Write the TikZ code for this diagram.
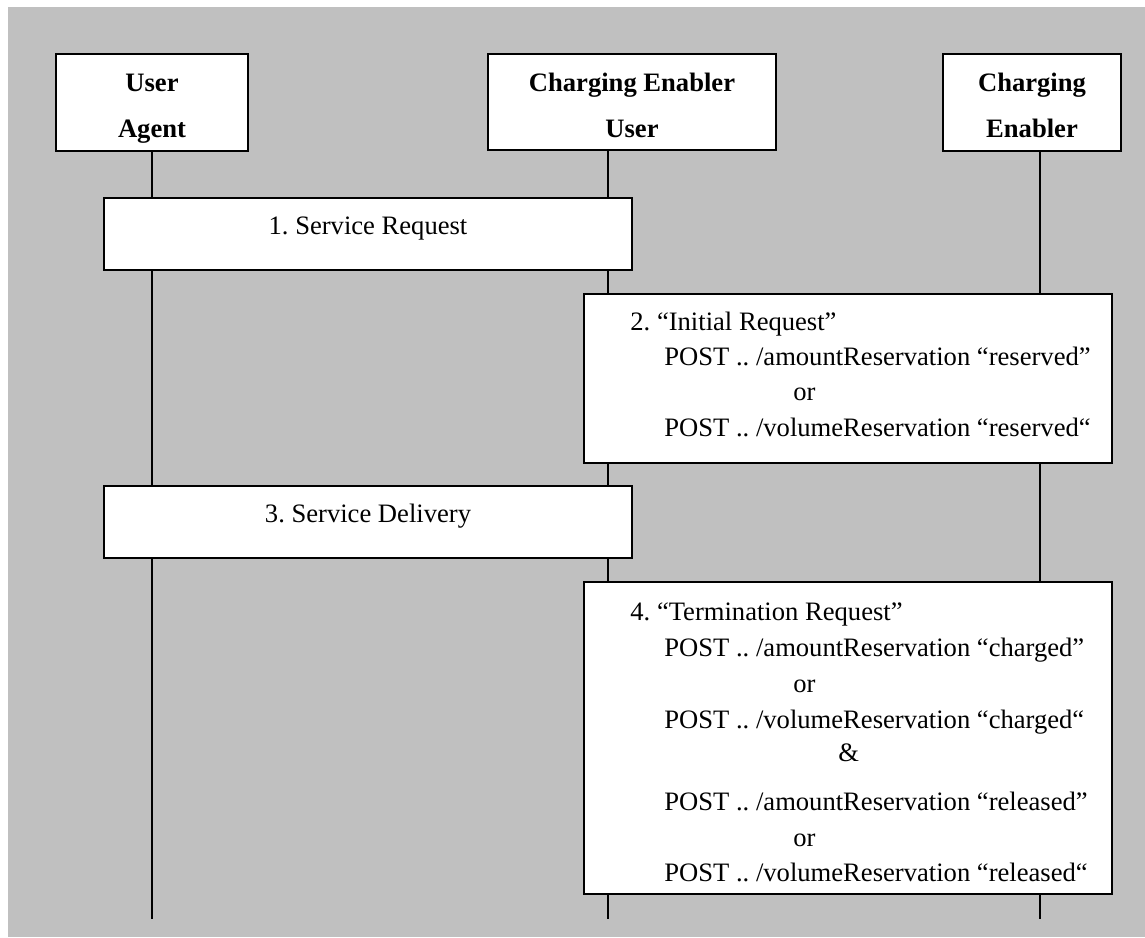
\documentclass[tikz,border=0pt]{standalone}
\usepackage{fontspec}
\setmainfont{Liberation Serif}
\usepackage{tikz}
\definecolor{panelgray}{RGB}{192,192,192}
\frenchspacing

\begin{document}
\begin{tikzpicture}[x=5pt,y=-5pt,
        box/.style={draw=black, fill=white, line width=1pt, inner sep=0pt},
        txt/.style={font=\fontsize{13.3}{16}\selectfont, inner sep=0pt, anchor=base west},
        ctxt/.style={txt, anchor=base},
        htxt/.style={ctxt, font=\fontsize{13.3}{16}\selectfont\bfseries},
        life/.style={black, line width=1pt}]
    \useasboundingbox (0,0) rectangle (114.5,93.7);
    \fill[panelgray] (0.8,0.7) rectangle (114.5,93.7);

    \node[box, minimum width=96pt,  minimum height=48.5pt] (UA)  at (15.2,10.25)  {};
    \node[box, minimum width=144pt, minimum height=48pt]   (CEU) at (63.2,10.2)   {};
    \node[box, minimum width=89pt,  minimum height=48.5pt] (CE)  at (103.2,10.25) {};

    \node[htxt] (UA1)  at (15.2,9.1)   {User};
    \node[htxt] (UA2)  at (15.2,13.7)  {Agent};
    \node[htxt] (CEU1) at (63.2,9.1)   {Charging Enabler};
    \node[htxt] (CEU2) at (63.2,13.7)  {User};
    \node[htxt] (CE1)  at (103.2,9.1)  {Charging};
    \node[htxt] (CE2)  at (103.2,13.7) {Enabler};

    \coordinate (UAend)  at (15.2,91.9);
    \coordinate (CEUend) at (60.8,91.9);
    \coordinate (CEend)  at (104.0,91.9);

    \draw[life] (UA.south)          -- (UAend);
    \draw[life] (CEU.south -| CEUend) -- (CEUend);
    \draw[life] (CE.south -| CEend)   -- (CEend);

    \node[box, minimum width=264pt, minimum height=36pt]   (req)  at (36.8,23.4)  {};
    \node[box, minimum width=264pt, minimum height=84.5pt] (init) at (84.8,37.85) {};
    \node[box, minimum width=264pt, minimum height=36pt]   (dlv)  at (36.8,52.2)  {};
    \node[box, minimum width=264pt, minimum height=156pt]  (term) at (84.8,73.8)  {};

    \node[ctxt] (req1) at (36.8,23.4) {1. Service Request};
    \node[ctxt] (dlv1) at (36.8,52.2) {3. Service Delivery};

    \node[txt] (init1) at (63.0,33.0) {2. “Initial Request”};
    \node[txt] (init2) at (66.4,36.5) {POST .. /amountReservation “reserved”};
    \node[txt] (init3) at (79.3,40.0) {or};
    \node[txt] (init4) at (66.4,43.6) {POST .. /volumeReservation “reserved“};

    \node[txt] (term1) at (63.0,62.0) {4. “Termination Request”};
    \node[txt] (term2) at (66.4,65.6) {POST .. /amountReservation “charged”};
    \node[txt] (term3) at (79.3,69.2) {or};
    \node[txt] (term4) at (66.4,72.8) {POST .. /volumeReservation “charged“};
    \node[txt] (term5) at (83.8,76.1) {\&};
    \node[txt] (term6) at (66.4,81.0) {POST .. /amountReservation “released”};
    \node[txt] (term7) at (79.3,84.6) {or};
    \node[txt] (term8) at (66.4,88.1) {POST .. /volumeReservation “released“};
\end{tikzpicture}
\end{document}
